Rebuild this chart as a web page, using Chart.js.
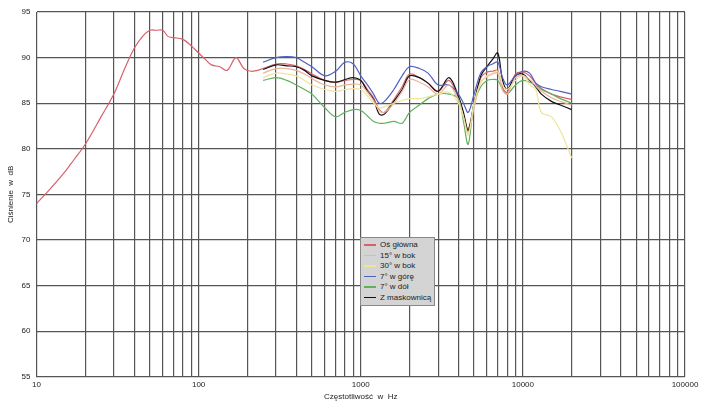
<!DOCTYPE html>
<html>
<head>
<meta charset="utf-8">
<script src="https://cdn.jsdelivr.net/npm/chart.js@4"></script>
<style>
	body { margin: 0; background: #fff; }
	#wrap { position: relative; width: 705px; height: 406px; }
	#legend { position: absolute; left: 360px; top: 237px; width: 75px; height: 69px; background: #d4d4d4;
		border: 1px solid #888; font: 8px "Liberation Sans", Arial, sans-serif; color: #222; box-sizing: border-box; padding: 2px 3px; }
	#legend div { height: 10.5px; line-height: 10.5px; white-space: nowrap; }
	#legend span { display: inline-block; width: 12px; height: 1.5px; vertical-align: middle; margin-right: 4px; }
</style>
</head>
<body>
<div id="wrap">
<canvas id="chart" width="705" height="406"></canvas>
<div id="legend"></div>
</div>
<script>
'use strict';

const lowFreq = [10, 12, 15, 17, 20, 25, 30, 35, 40, 45, 50, 55, 60, 65, 70, 80, 90, 100, 110, 120, 135, 150, 170, 190, 210, 230];
const lowMain = [74, 75.5, 77.5, 78.8, 80.5, 83.5, 86, 88.8, 91, 92.3, 93, 93, 93, 92.3, 92.2, 92, 91.3, 90.5, 89.8, 89.2, 89, 88.6, 90, 88.8, 88.5, 88.6];

const freq = [250, 300, 350, 400, 450, 500, 600, 700, 800, 900, 1000, 1100, 1200, 1300, 1400, 1600, 1800, 2000, 2300, 2600, 3000, 3500, 4000, 4300, 4600, 5000, 5500, 6000, 6500, 7000, 7500, 8000, 9000, 10000, 11000, 12000, 13000, 15000, 17000, 20000];

const main   = [88.8, 89.3, 89.3, 89.1, 88.7, 88.2, 87.5, 87.3, 87.5, 87.6, 87.5, 86.5, 85.6, 84.3, 84.0, 85.4, 86.8, 88.2, 87.8, 87.2, 86.3, 87.5, 85.6, 83.8, 82.2, 84.9, 87.8, 88.4, 88.5, 88.6, 86.7, 86.2, 88.2, 88.4, 88.0, 87.2, 86.6, 86.0, 85.7, 85.4];
const side15 = [88.3, 88.8, 88.8, 88.6, 88.2, 87.7, 87.0, 86.8, 87.0, 87.1, 87.0, 86.2, 85.3, 84.2, 84.0, 85.0, 86.3, 87.6, 87.3, 86.8, 86.0, 87.0, 85.3, 83.5, 81.8, 84.5, 87.3, 87.9, 88.2, 88.3, 86.4, 86.0, 87.8, 88.0, 87.6, 86.9, 86.3, 85.6, 85.2, 84.8];
const side30 = [87.8, 88.3, 88.2, 88.0, 87.5, 87.0, 86.5, 86.3, 86.5, 86.6, 86.5, 85.8, 85.0, 84.5, 84.6, 85.0, 85.3, 85.5, 85.5, 85.7, 86.0, 86.2, 85.0, 83.5, 81.5, 85.0, 87.3, 88.0, 88.3, 88.5, 87.0, 86.5, 87.5, 88.0, 87.0, 86.5, 84.0, 83.5, 82.0, 79.0];
const up7    = [89.5, 90.0, 90.1, 90.0, 89.5, 89.0, 88.0, 88.5, 89.5, 89.3, 88.0, 87.0, 86.0, 85.0, 85.2, 86.5, 88.0, 89.0, 88.8, 88.3, 87.0, 87.0, 86.0, 85.0, 84.0, 86.0, 88.3, 89.0, 89.3, 89.5, 87.8, 87.0, 88.0, 88.5, 88.3, 87.2, 86.8, 86.5, 86.3, 86.0];
const down7  = [87.5, 87.8, 87.5, 87.0, 86.5, 86.0, 84.5, 83.5, 84.0, 84.3, 84.2, 83.6, 83.0, 82.8, 82.8, 83.0, 82.8, 84.0, 84.8, 85.5, 86.0, 86.0, 85.5, 83.0, 80.5, 85.0, 86.8, 87.5, 87.6, 87.5, 86.5, 86.0, 87.0, 87.5, 87.3, 87.0, 86.5, 86.0, 85.5, 85.0];
const grille = [88.7, 89.2, 89.1, 89.0, 88.6, 88.0, 87.5, 87.3, 87.6, 87.8, 87.5, 86.3, 85.4, 83.8, 83.8, 85.2, 86.5, 88.0, 87.8, 87.2, 86.3, 87.8, 85.8, 84.0, 82.0, 85.0, 88.0, 89.0, 89.8, 90.5, 87.5, 86.5, 88.0, 88.2, 87.5, 86.8, 86.0, 85.2, 84.8, 84.3];

const seriesNames = ['Oś  główna', '15°  w  bok', '30°  w  bok', '7°  w  górę', '7°  w  dół', 'Z  maskownicą'];
const seriesColors = ['#d9606a', '#e8b49a', '#eee49a', '#5060c0', '#60b060', '#111111'];

const yTicks = [55, 60, 65, 70, 75, 80, 85, 90, 95];

function pts(xs, ys) {
	return xs.map((x, i) => ({ x: x, y: ys[i] }));
}

let xTicks = [];
for (let d = 10; d < 100000; d *= 10) {
	for (let m = 1; m < 10; m++) xTicks.push(d * m);
}
xTicks.push(100000);

const values = [pts(lowFreq.concat(freq), lowMain.concat(main)), pts(freq, side15), pts(freq, side30), pts(freq, up7), pts(freq, down7), pts(freq, grille)];
const order = [2, 1, 4, 3, 5, 0];

const datasets = order.map((i) => ({
	label: seriesNames[i],
	data: values[i],
	borderColor: seriesColors[i],
	borderWidth: 1.2,
	pointRadius: 0,
	tension: 0.35,
	fill: false
}));

const font = { family: 'Liberation Sans, Arial, sans-serif', size: 8 };

new Chart(document.getElementById('chart'), {
	type: 'line',
	data: { datasets: datasets },
	options: {
		responsive: false,
		animation: false,
		layout: { padding: { left: 6, right: 20, top: 12, bottom: 4 } },
		plugins: { legend: { display: false }, tooltip: { enabled: false } },
		scales: {
			x: {
				type: 'logarithmic',
				min: 10,
				max: 100000,
				afterBuildTicks: (axis) => { axis.ticks = xTicks.map((v) => ({ value: v })); },
				ticks: {
					autoSkip: false,
					maxRotation: 0,
					font: font,
					color: '#222',
					callback: (v) => ([10, 100, 1000, 10000, 100000].includes(v) ? String(v) : '')
				},
				grid: { color: '#555', lineWidth: 1.2, drawTicks: false },
				border: { color: '#555' },
				title: { display: true, text: 'Częstotliwość  w  Hz', font: font, color: '#222', padding: 0 }
			},
			y: {
				min: 55,
				max: 95,
				afterBuildTicks: (axis) => { axis.ticks = yTicks.map((v) => ({ value: v })); },
				ticks: { font: font, color: '#222', padding: 6 },
				grid: { color: '#555', lineWidth: 1.2, drawTicks: false },
				border: { color: '#555' },
				title: { display: true, text: 'Ciśnienie  w  dB', font: font, color: '#222', padding: 0 }
			}
		}
	}
});

let legend = document.getElementById('legend');
seriesNames.forEach((name, i) => {
	let row = document.createElement('div');
	row.innerHTML = `<span style="background:${seriesColors[i]}"></span>${name}`;
	legend.appendChild(row);
});
</script>
</body>
</html>
